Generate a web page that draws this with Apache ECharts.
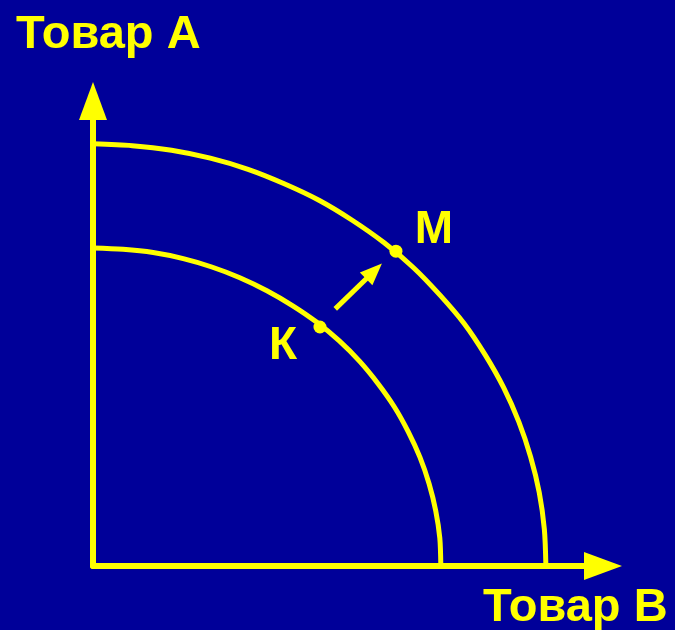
<!DOCTYPE html>
<html>
<head>
<meta charset="utf-8">
<script src="https://cdn.jsdelivr.net/npm/echarts@6/dist/echarts.min.js"></script>
<style>
  html, body { margin: 0; padding: 0; background: #000099; }
  #chart { width: 675px; height: 630px; }
</style>
</head>
<body>
<div id="chart"></div>
<script>
// кривые производственных возможностей: [товар B, товар A]
var outerB = [8.88, 8.85, 8.75, 8.58, 8.35, 8.05, 7.69, 7.28, 6.80, 6.28, 5.71, 5.09, 4.44, 3.75, 3.04, 2.30, 1.54, 0.77, 0];
var outerA = [0, 0.79, 1.58, 2.35, 3.10, 3.84, 4.54, 5.21, 5.83, 6.42, 6.95, 7.43, 7.86, 8.22, 8.53, 8.77, 8.94, 9.04, 9.08];
var innerB = [6.82, 6.80, 6.72, 6.59, 6.41, 6.18, 5.91, 5.59, 5.23, 4.83, 4.39, 3.91, 3.41, 2.88, 2.33, 1.77, 1.18, 0.59, 0];
var innerA = [0, 0.60, 1.19, 1.77, 2.34, 2.89, 3.42, 3.92, 4.40, 4.84, 5.24, 5.60, 5.92, 6.20, 6.43, 6.61, 6.74, 6.81, 6.84];
// точки К и М
var pointNames = ["К", "М"];
var pointValues = [[4.45, 5.14], [5.94, 6.77]];
var labelOffsets = [[-37, 19], [38, -21]];
// стрелка сдвига
var shiftFrom = [4.75, 5.53];
var shiftTo = [5.51, 6.34];

var yellow = "#ffff00";
var titleFont = "bold 47px 'Liberation Sans', Arial, sans-serif";

function pairs(xs, ys) {
  return xs.map(function (x, i) { return [x, ys[i]]; });
}

var chart = echarts.init(document.getElementById("chart"));

var axisCommon = {
  type: "value",
  min: 0,
  max: 10,
  axisLine: {
    show: true,
    symbol: ["none", "triangle"],
    symbolSize: [28, 38],
    lineStyle: { color: yellow, width: 6 }
  },
  axisTick: { show: false },
  axisLabel: { show: false },
  splitLine: { show: false }
};

var option = {
  backgroundColor: "#000099",
  animation: false,
  grid: { left: 93, top: 101, width: 510, height: 465 },
  xAxis: axisCommon,
  yAxis: axisCommon,
  graphic: [
    {
      type: "text", left: 16, top: 12,
      style: { text: "Товар А", fill: yellow, font: titleFont }
    },
    {
      type: "text", left: 483, top: 585,
      style: { text: "Товар В", fill: yellow, font: titleFont }
    }
  ],
  series: [
    {
      type: "line",
      data: pairs(outerB, outerA),
      smooth: 0.3,
      showSymbol: false,
      lineStyle: { color: yellow, width: 5 }
    },
    {
      type: "line",
      data: pairs(innerB, innerA),
      smooth: 0.3,
      showSymbol: false,
      lineStyle: { color: yellow, width: 5 },
      markLine: {
        silent: true,
        symbol: ["none", "triangle"],
        symbolSize: [18, 22],
        label: { show: false },
        lineStyle: { color: yellow, width: 5, type: "solid", opacity: 1 },
        data: [[{ coord: shiftFrom }, { coord: shiftTo }]]
      }
    },
    {
      type: "scatter",
      symbolSize: 13,
      itemStyle: { color: yellow, opacity: 1 },
      data: pointValues.map(function (v, i) {
        return {
          value: v,
          label: {
            show: true,
            formatter: pointNames[i],
            position: "inside",
            offset: labelOffsets[i],
            color: yellow,
            fontSize: 46,
            fontWeight: "bold",
            fontFamily: "Liberation Sans"
          }
        };
      })
    }
  ]
};

chart.setOption(option);
</script>
</body>
</html>
